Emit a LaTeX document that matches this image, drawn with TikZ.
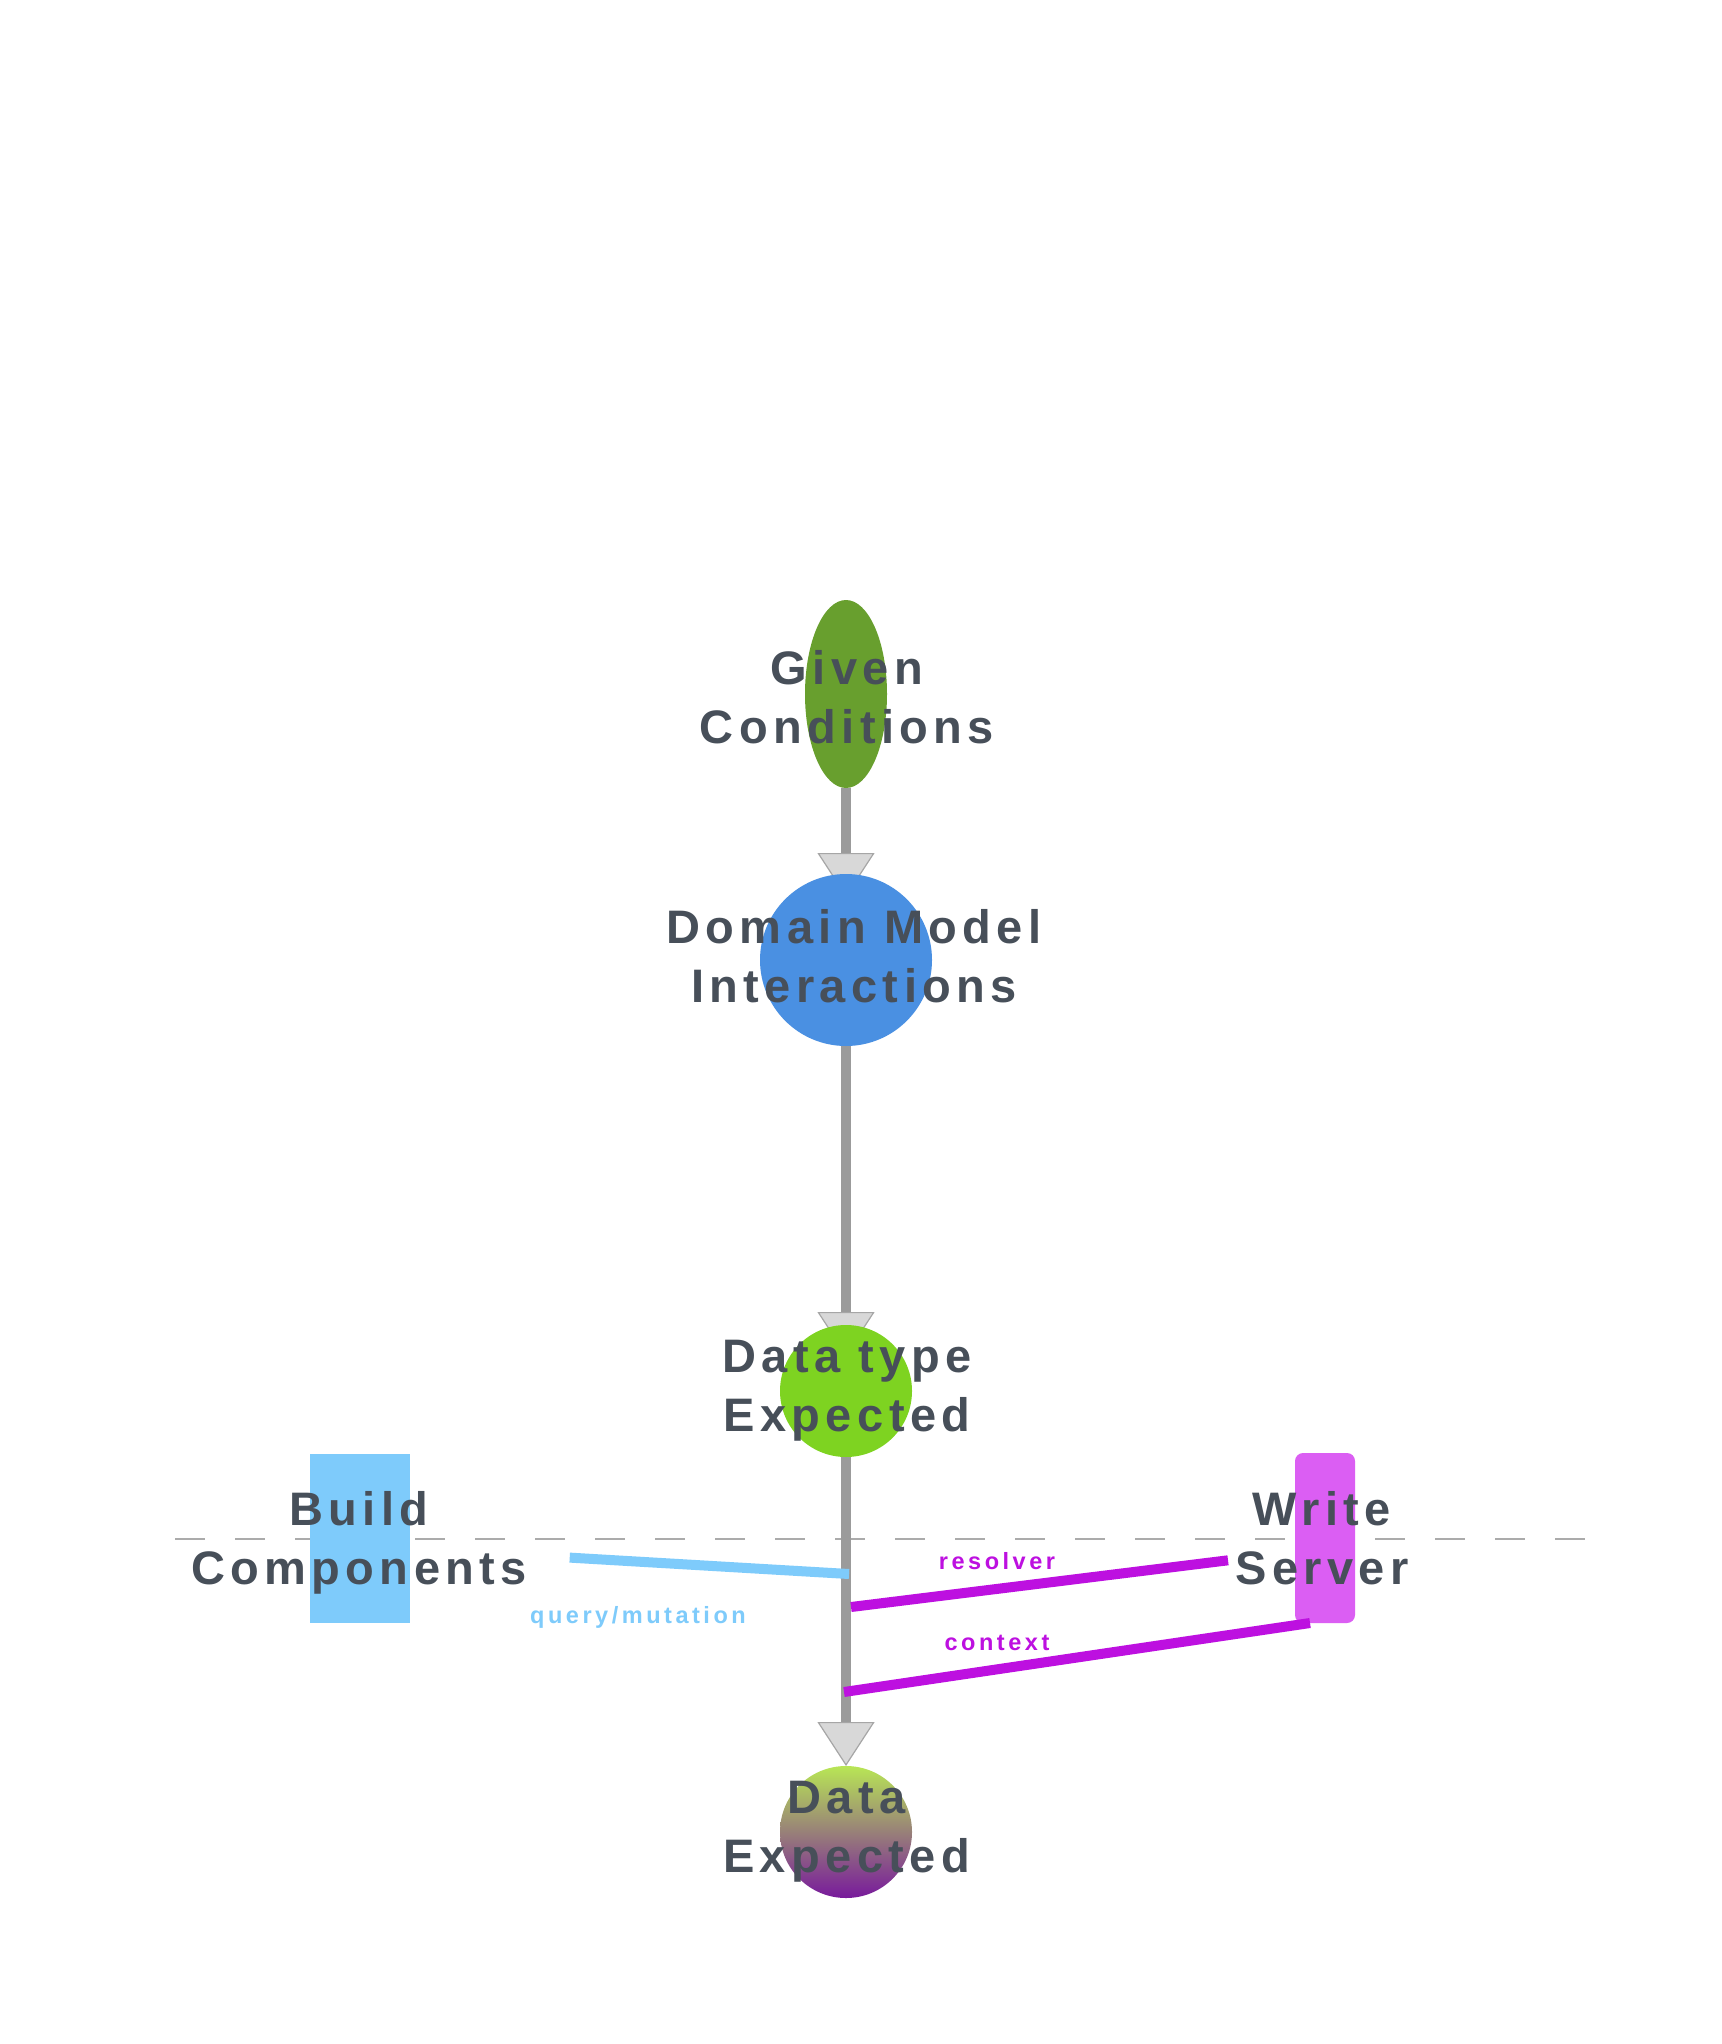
\documentclass[tikz,border=0pt]{standalone}
\usepackage{fontspec}
\setmainfont{Liberation Sans}
\newfontfamily\nodefont[LetterSpace=11.5]{Liberation Sans}
\newfontfamily\edgefont[LetterSpace=15]{Liberation Sans}
\usetikzlibrary{shapes.geometric,arrows.meta,backgrounds,calc}
\definecolor{txt}{HTML}{474F59}
\definecolor{gcgreen}{HTML}{689F2E}
\definecolor{dmblue}{HTML}{4A90E2}
\definecolor{dtgreen}{HTML}{7ED321}
\definecolor{bcblue}{HTML}{7ECBFB}
\definecolor{wsmag}{HTML}{DB5EF3}
\definecolor{magline}{HTML}{BD10E0}
\definecolor{stemgrey}{HTML}{9B9B9B}
\definecolor{arrowfill}{HTML}{D8D8D8}
\definecolor{arrowdraw}{HTML}{A6A6A6}
\definecolor{dashc}{HTML}{ABABAB}
\definecolor{detop}{HTML}{B8E655}
\definecolor{debot}{HTML}{781A9C}
\tikzset{
  shapebox/.style={inner sep=0pt, outer sep=0pt, draw=none},
  nodetext/.style={text=txt, font=\nodefont\bfseries\fontsize{23.5}{29.5}\selectfont, align=center, inner sep=0pt},
  edgelabel/.style={font=\edgefont\bfseries\fontsize{11.75}{14}\selectfont, inner sep=0pt},
  stemline/.style={draw=stemgrey, line width=5pt, -{Triangle[length=22pt,width=28.5pt,color=arrowdraw,fill=arrowfill,line width=0.6pt]}},
  qline/.style={draw=bcblue, line width=5pt},
  mline/.style={draw=magline, line width=5pt},
  sepline/.style={draw=dashc, line width=1pt, dash pattern=on 15pt off 15pt}
}
\begin{document}
\begin{tikzpicture}[x=0.5pt,y=-0.5pt]
\path[use as bounding box] (0,0) rectangle (1721,2044);
% nodes
\node[shapebox, ellipse, fill=gcgreen, minimum width=41pt, minimum height=94pt,
  label={[nodetext,xshift=0.5pt,yshift=-1.5pt]center:Given\\Conditions}] (gc) at (846,694) {};
\node[shapebox, circle, fill=dmblue, minimum size=86pt,
  label={[nodetext,xshift=4pt,yshift=1.8pt]center:Domain Model\\Interactions}] (dm) at (846,960) {};
\node[shapebox, circle, fill=dtgreen, minimum size=66pt,
  label={[nodetext,xshift=0.5pt]center:Data type\\Expected}] (dt) at (846,1391) {};
\node[shapebox, circle, top color=detop, bottom color=debot, minimum size=66pt,
  label={[nodetext,xshift=0.3pt]center:Data\\Expected}] (de) at (846,1832) {};
\node[shapebox, rectangle, fill=bcblue, minimum width=50pt, minimum height=84.5pt,
  label={[nodetext,xshift=-0.5pt,yshift=-2pt]center:Build\\Components}] (bc) at (360,1538.5) {};
\node[shapebox, rectangle, rounded corners=4pt, fill=wsmag, minimum width=30pt, minimum height=85pt,
  label={[nodetext,xshift=-1.5pt]center:Write\\Server}] (ws) at (1325,1538) {};
% stem coordinates
\coordinate (q) at (849,1574);
\coordinate (r) at (851,1607);
\coordinate (c) at (844,1692);
\begin{scope}[on background layer]
  \fill[white] (0,0) rectangle (1721,2044);
  \draw[sepline] (175,1539) -- (1587,1539);
  \draw[stemline, shorten >=-11.5pt] (gc.south) -- (dm.north);
  \draw[stemline, shorten >=-15.5pt] (dm.south) -- (dt.north);
  \draw[stemline] (dt.south) -- (de.north);
\end{scope}
% side connectors
\draw[qline, shorten <=80pt] (bc.349.8) -- (q);
\draw[mline, shorten >=33.75pt] (r) -- (ws.205);
\draw[mline] (c) -- (ws.260.6);
% labels
\node[edgelabel, text=bcblue, anchor=base] (lq) at (638,1623) {query/mutation};
\node[edgelabel, text=magline, anchor=base] (lr) at (997,1569) {resolver};
\node[edgelabel, text=magline, anchor=base] (lc) at (997,1650) {context};
\end{tikzpicture}
\end{document}
